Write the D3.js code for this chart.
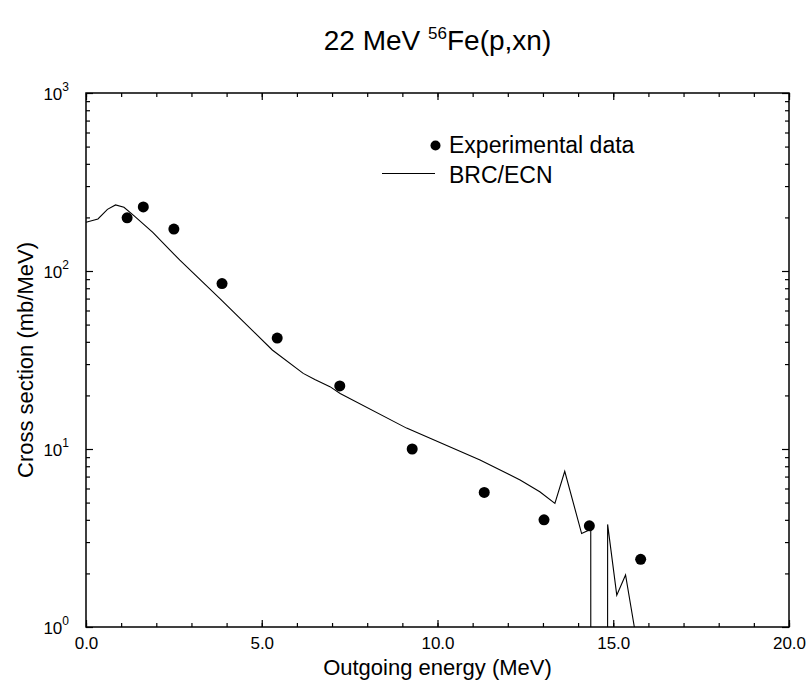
<!DOCTYPE html>
<html>
<head>
<meta charset="utf-8">
<script src="https://cdn.jsdelivr.net/npm/d3@7"></script>
<style>
  body { margin: 0; background: #fff; }
  text { font-family: "Liberation Sans", Arial, sans-serif; fill: #000; }
</style>
</head>
<body>
<div id="chart-area"></div>
<script>
// experimental points (MeV, mb/MeV)
const expEnergy = [1.17, 1.63, 2.50, 3.87, 5.44, 7.22, 9.28, 11.33, 13.03, 14.32, 15.78]
const expValue = [199, 229, 172, 85, 42, 22.6, 10.0, 5.7, 4.0, 3.7, 2.4]

// BRC/ECN calculation; 1e-6 stands for zero (falls off the log axis)
const calcEnergy = [0.0, 0.34, 0.61, 0.84, 1.08, 1.37, 1.9, 2.39, 2.67, 3.81, 5.3, 6.18, 6.51, 6.94, 7.23,
    9.12, 11.21, 12.35, 12.91, 13.34, 13.62, 14.10, 14.27, 14.36, 14.37, 14.83, 14.84, 15.10, 15.35, 15.60, 15.85]
const calcValue = [188, 196, 222, 235, 228, 204, 165, 131, 115, 70, 36, 26.6, 24.6, 22.4, 20.5,
    13.1, 8.67, 6.7, 5.75, 4.95, 7.5, 3.35, 3.47, 3.55, 1e-6, 1e-6, 3.77, 1.51, 1.96, 1.0, 1e-6]

const xMajor = [0, 5, 10, 15, 20]
const xMinor = d3.range(0, 21, 1)
const yMajor = [1, 10, 100, 1000]
const yExp = ['0', '1', '2', '3']
const legendLabels = ['Experimental data', 'BRC/ECN']

const margin = { left: 86, right: 23, top: 93, bottom: 59 }
const W = 812, H = 686
const width = W - margin.left - margin.right
const height = H - margin.top - margin.bottom

const svg = d3.select('#chart-area').append('svg')
    .attr('width', W)
    .attr('height', H)

const g = svg.append('g')
    .attr('transform', `translate(${margin.left}, ${margin.top})`)

const xScale = d3.scaleLinear().domain([0, 20]).range([0, width])
const yScale = d3.scaleLog().domain([1, 1000]).range([height, 0])

svg.append('defs').append('clipPath').attr('id', 'plot-clip')
    .append('rect').attr('width', width).attr('height', height)

// minor ticks
const yMinor = []
yMajor.slice(0, 3).forEach(d => { for (let k = 2; k <= 9; k++) yMinor.push(d * k) })

const axisStyle = sel => {
    sel.select('.domain').remove()
    sel.selectAll('line').attr('stroke', '#000').attr('stroke-width', 1.2)
}

g.append('g').attr('transform', `translate(0, ${height})`)
    .call(d3.axisBottom(xScale).tickValues(xMinor).tickSize(-4).tickFormat(''))
    .call(axisStyle)
g.append('g').attr('class', 'x axis').attr('transform', `translate(0, ${height})`)
    .call(d3.axisBottom(xScale).tickValues(xMajor).tickSize(-7).tickPadding(10).tickFormat(d3.format('.1f')))
    .call(axisStyle)
    .selectAll('text').attr('font-size', '17px').attr('font-family', null)
g.append('g')
    .call(d3.axisTop(xScale).tickValues(xMinor).tickSize(-4).tickFormat(''))
    .call(axisStyle)
g.append('g')
    .call(d3.axisTop(xScale).tickValues(xMajor).tickSize(-7).tickFormat(''))
    .call(axisStyle)

g.append('g')
    .call(d3.axisLeft(yScale).tickValues(yMinor).tickSize(-4).tickFormat(''))
    .call(axisStyle)
g.append('g')
    .call(d3.axisLeft(yScale).tickValues(yMajor).tickSize(-7).tickFormat(''))
    .call(axisStyle)
g.append('g').attr('transform', `translate(${width}, 0)`)
    .call(d3.axisRight(yScale).tickValues(yMinor).tickSize(-4).tickFormat(''))
    .call(axisStyle)
g.append('g').attr('transform', `translate(${width}, 0)`)
    .call(d3.axisRight(yScale).tickValues(yMajor).tickSize(-7).tickFormat(''))
    .call(axisStyle)

// y labels as 10^n
const yLab = g.append('g').selectAll('text')
    .data(yMajor).enter().append('text')
    .attr('x', -17)
    .attr('y', d => yScale(d) + 7)
    .attr('text-anchor', 'end')
    .attr('font-size', '17px')
yLab.append('tspan').text('10')
yLab.append('tspan').attr('dy', -9).attr('font-size', '12px').text((d, i) => yExp[i])

// frame
g.append('rect')
    .attr('width', width).attr('height', height)
    .attr('fill', 'none').attr('stroke', '#000').attr('stroke-width', 1.5)

// calculation curve
const line = d3.line()
    .x((d, i) => xScale(calcEnergy[i]))
    .y(d => yScale(d))
g.append('path')
    .datum(calcValue)
    .attr('clip-path', 'url(#plot-clip)')
    .attr('d', line)
    .attr('fill', 'none')
    .attr('stroke', '#000')
    .attr('stroke-width', 1.1)

// experimental points
g.selectAll('circle.exp')
    .data(expValue).enter().append('circle')
    .attr('class', 'exp')
    .attr('cx', (d, i) => xScale(expEnergy[i]))
    .attr('cy', d => yScale(d))
    .attr('r', 5.5)
    .attr('fill', '#000')

// legend
const leg = svg.append('g')
leg.append('circle').attr('cx', 435.5).attr('cy', 145.5).attr('r', 5).attr('fill', '#000')
leg.append('line').attr('x1', 382).attr('x2', 435).attr('y1', 173.5).attr('y2', 173.5)
    .attr('stroke', '#000').attr('stroke-width', 1.1)
leg.selectAll('text')
    .data(legendLabels).enter().append('text')
    .attr('x', 449)
    .attr('y', (d, i) => 153 + i * 30)
    .attr('font-size', '23px')
    .text(d => d)

// title
const title = svg.append('text')
    .attr('x', margin.left + width / 2)
    .attr('y', 50)
    .attr('text-anchor', 'middle')
    .attr('font-size', '28px')
title.append('tspan').text('22 MeV ')
title.append('tspan').attr('dy', -11).attr('font-size', '17px').text('56')
title.append('tspan').attr('dy', 11).text('Fe(p,xn)')

// axis titles
svg.append('text')
    .attr('x', margin.left + width / 2)
    .attr('y', 675)
    .attr('text-anchor', 'middle')
    .attr('font-size', '22px')
    .text('Outgoing energy (MeV)')

svg.append('text')
    .attr('transform', `translate(33, ${margin.top + height / 2}) rotate(-90)`)
    .attr('text-anchor', 'middle')
    .attr('font-size', '22px')
    .text('Cross section (mb/MeV)')
</script>
</body>
</html>
